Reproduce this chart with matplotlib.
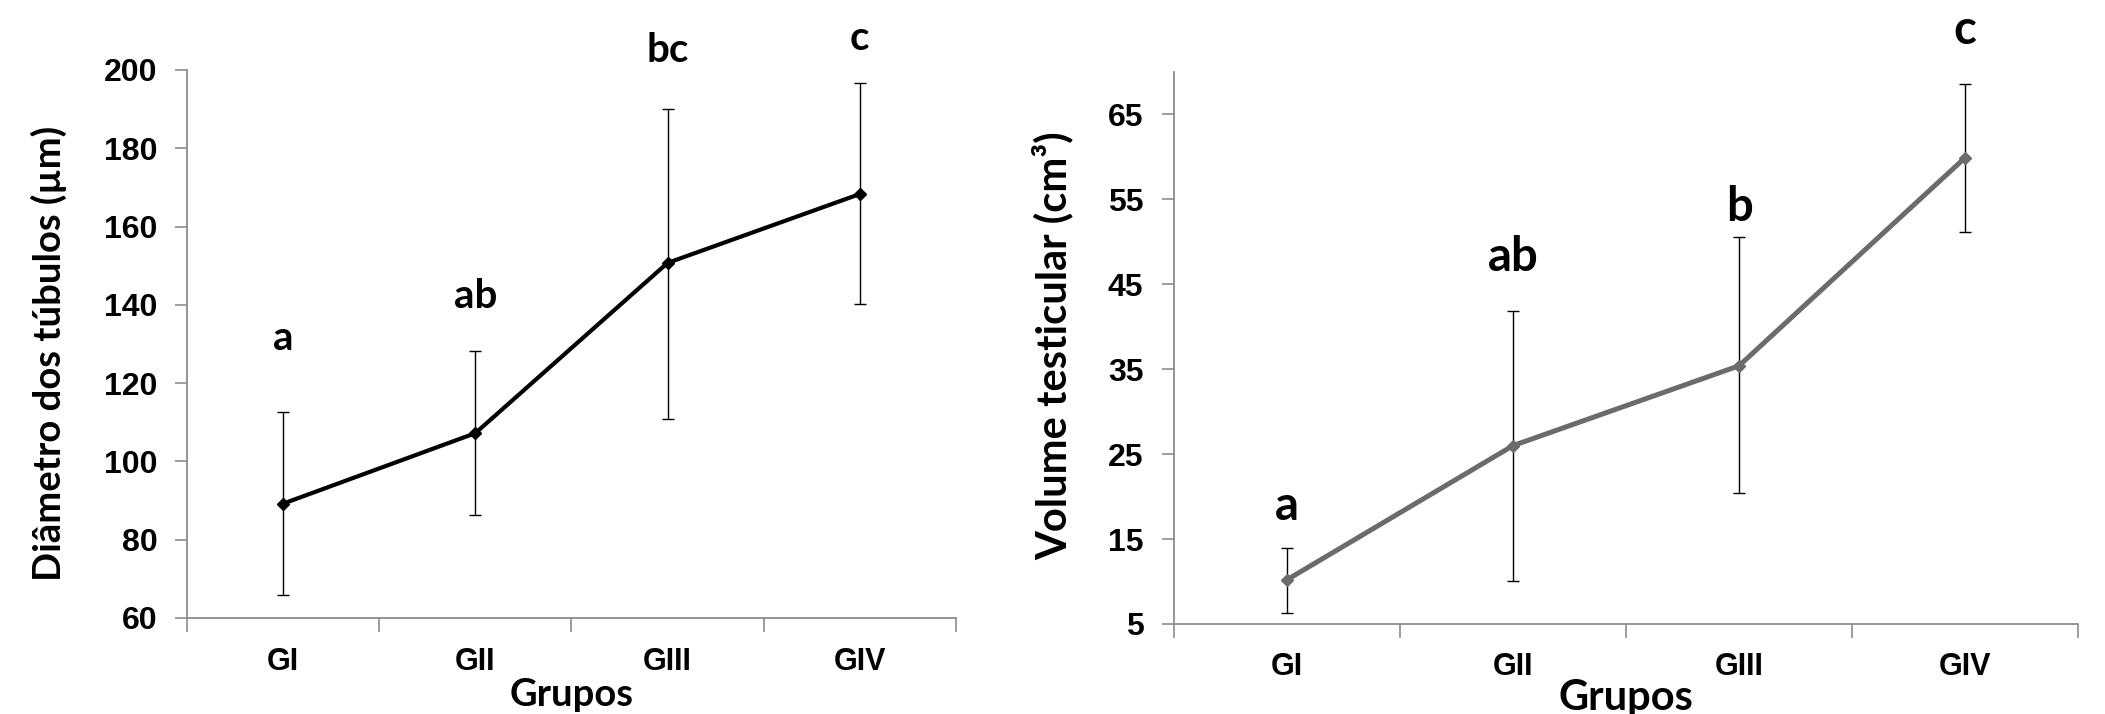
import matplotlib.pyplot as plt
from matplotlib.ticker import FixedLocator

groups = ['GI', 'GII', 'GIII', 'GIV']

# left panel: tubule diameter (um)
diam_mean = [89.2, 107.2, 150.7, 168.3]
diam_upper = [112.7, 128.3, 190.1, 196.7]
diam_lower = [65.8, 86.4, 110.9, 140.2]
diam_letters = ['a', 'ab', 'bc', 'c']
diam_letter_y = [131.5, 142, 205, 208]

# right panel: testicular volume (cm3)
vol_mean = [10.2, 26.0, 35.4, 59.9]
vol_upper = [14.0, 41.9, 50.6, 68.6]
vol_lower = [6.3, 10.1, 20.4, 51.1]
vol_letters = ['a', 'ab', 'b', 'c']
vol_letter_y = [18.9, 48.2, 54.1, 75.0]

tick_font = 'Liberation Sans'
label_font = ['Lato', 'DejaVu Sans']
spine_col = '#8c8c8c'

fig = plt.figure(figsize=(21.05, 7.14), dpi=100)
ax1 = fig.add_axes([0.0888, 0.1345, 0.3653, 0.7675])
ax2 = fig.add_axes([0.5577, 0.1261, 0.4295, 0.7731])


def draw_panel(ax, mean, lower, upper, letters, letter_y, color, lw, ylim, yticks,
               ylabel, ylab_xy, lab_size, let_size, xlab_y, xpad, ypad):
    x = list(range(len(groups)))
    err = [[m - lo for m, lo in zip(mean, lower)], [up - m for m, up in zip(mean, upper)]]
    ax.errorbar(x, mean, yerr=err, fmt='none', ecolor='black', elinewidth=1.0,
                capsize=4, capthick=1.0, zorder=2)
    ax.plot(x, mean, color=color, lw=lw, marker='D', markersize=6.5, zorder=3)
    for xi, t, ty in zip(x, letters, letter_y):
        ax.text(xi, ty, t, ha='center', va='center', fontsize=let_size, fontweight='bold',
                family=label_font, clip_on=False)

    ax.set_xlim(-0.5, len(groups) - 0.5)
    ax.set_ylim(*ylim)
    ax.set_yticks(yticks)
    ax.set_yticklabels([str(v) for v in yticks], fontsize=23, fontweight='bold',
                       family=tick_font)
    ax.xaxis.set_major_locator(FixedLocator([i - 0.5 for i in range(len(groups) + 1)]))
    ax.xaxis.set_minor_locator(FixedLocator(x))
    ax.set_xticklabels([], minor=False)
    ax.set_xticklabels(groups, minor=True, fontsize=22, fontweight='bold',
                       family=tick_font)
    ax.tick_params(axis='x', which='major', direction='out', length=10, width=1.2,
                   color=spine_col)
    ax.tick_params(axis='x', which='minor', length=0, pad=xpad)
    ax.tick_params(axis='y', direction='out', length=9, width=1.2, color=spine_col,
                   pad=ypad)

    for s in ['top', 'right']:
        ax.spines[s].set_visible(False)
    for s in ['left', 'bottom']:
        ax.spines[s].set_color(spine_col)
        ax.spines[s].set_linewidth(1.3)

    ax.set_ylabel(ylabel, fontsize=lab_size, fontweight='bold', family=label_font)
    ax.yaxis.set_label_coords(*ylab_xy)
    ax.set_xlabel('Grupos', fontsize=lab_size, fontweight='bold', family=label_font)
    ax.xaxis.set_label_coords(0.5, xlab_y)


draw_panel(ax1, diam_mean, diam_lower, diam_upper, diam_letters, diam_letter_y,
           'black', 3.0, (60, 200), [60, 80, 100, 120, 140, 160, 180, 200],
           'Diâmetro dos túbulos (µm)', (-0.156, 0.482), 27.5, 29, -0.11, 21, 12)
draw_panel(ax2, vol_mean, vol_lower, vol_upper, vol_letters, vol_letter_y,
           '#6b6b6b', 3.6, (5, 70), [5, 15, 25, 35, 45, 55, 65],
           'Volume testicular (cm³)', (-0.111, 0.505), 30, 34, -0.10, 20, 13)

fig.savefig('out.png', dpi=100, facecolor='white')
